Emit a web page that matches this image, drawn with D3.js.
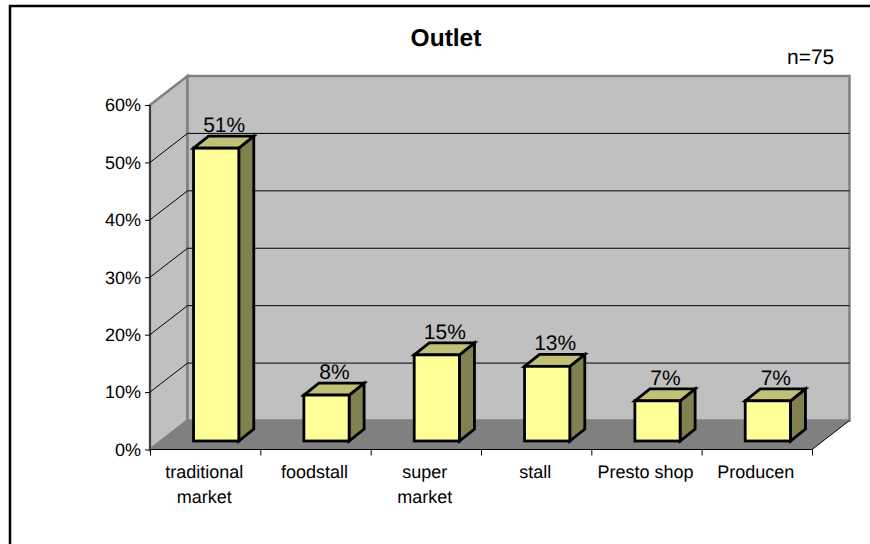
<!DOCTYPE html>
<html>
<head>
<meta charset="utf-8">
<script src="https://cdn.jsdelivr.net/npm/d3@7"></script>
<style>
  html, body { margin: 0; padding: 0; background: #fff; }
  svg { display: block; }
  text { font-family: "Liberation Sans", Arial, sans-serif; fill: #000; text-rendering: geometricPrecision; }
</style>
</head>
<body>
<svg id="chart" width="870" height="544"></svg>
<script>
// Chart content
const chartTitle = "Outlet";
const sampleNote = "n=75";
const categories = [["traditional", "market"], ["foodstall"], ["super", "market"], ["stall"], ["Presto shop"], ["Producen"]];
const shares = [51, 8, 15, 13, 7, 7];
const yTicks = [0, 10, 20, 30, 40, 50, 60];

const svg = d3.select("#chart");

// Box geometry: front plane of the 3D axis box and its depth offset
const frontLeft = 150, frontRight = 812, frontBottom = 449.5, frontTop = 105;
const depthX = 37.5, depthY = -29;
const barInset = 0.41, barShiftX = 11, barOffsetY = -8.5, barDepthX = 15, barDepthY = -12;

const x = d3.scaleBand().domain(d3.range(categories.length)).range([frontLeft, frontRight]).paddingInner(0);
const y = d3.scaleLinear().domain([0, 60]).range([frontBottom, frontTop]);

const poly = (pts) => pts.map(p => p.join(",")).join(" ");

// Outer frame
svg.append("path").attr("d", "M10,544V6H870").attr("fill", "none").attr("stroke", "#000").attr("stroke-width", 2.5);

// Side wall, back wall and floor
svg.append("polygon").attr("fill", "#c0c0c0").attr("stroke", "#808080").attr("stroke-width", 2.5)
  .attr("points", poly([[frontLeft, y(60)], [frontLeft + depthX, y(60) + depthY], [frontLeft + depthX, y(0) + depthY], [frontLeft, y(0)]]));
svg.append("polygon").attr("fill", "#c0c0c0").attr("stroke", "#808080").attr("stroke-width", 2.5)
  .attr("points", poly([[frontLeft + depthX, y(60) + depthY], [frontRight + depthX, y(60) + depthY], [frontRight + depthX, y(0) + depthY], [frontLeft + depthX, y(0) + depthY]]));
svg.append("polygon").attr("fill", "#808080")
  .attr("points", poly([[frontLeft, y(0)], [frontLeft + depthX, y(0) + depthY], [frontRight + depthX, y(0) + depthY], [frontRight, y(0)]]));

// Gridlines across the side wall and back wall
svg.append("g").selectAll("path").data(yTicks.filter(d => d > 0 && d < 60)).join("path")
  .attr("fill", "none").attr("stroke", "#000").attr("stroke-width", 1)
  .attr("d", d => `M${frontLeft},${y(d)}L${frontLeft + depthX},${y(d) + depthY}H${frontRight + depthX}`);
// Floor edge
svg.append("path").attr("fill", "none").attr("stroke", "#000").attr("stroke-width", 1)
  .attr("d", `M${frontRight},${y(0)}L${frontRight + depthX},${y(0) + depthY}`);

// Bars: front, top and side faces with value labels
const bars = svg.append("g").selectAll("g").data(shares).join("g");
const bw = x.bandwidth() * barInset;
const bx = (i) => x(i) + (x.bandwidth() - bw) / 2 + barShiftX;
const bt = (d) => y(d) + barOffsetY;
const bb = y(0) + barOffsetY;
const barStroke = (s) => s.attr("stroke", "#000").attr("stroke-width", 2.8).attr("stroke-linejoin", "miter");

bars.append("polygon").attr("fill", "#808050").call(barStroke)
  .attr("points", (d, i) => poly([[bx(i) + bw, bt(d)], [bx(i) + bw + barDepthX, bt(d) + barDepthY], [bx(i) + bw + barDepthX, bb + barDepthY], [bx(i) + bw, bb]]));
bars.append("polygon").attr("fill", "#c0c078").call(barStroke)
  .attr("points", (d, i) => poly([[bx(i), bt(d)], [bx(i) + barDepthX, bt(d) + barDepthY], [bx(i) + bw + barDepthX, bt(d) + barDepthY], [bx(i) + bw, bt(d)]]));
bars.append("rect").attr("fill", "#ffff99").call(barStroke)
  .attr("x", (d, i) => bx(i)).attr("y", d => bt(d)).attr("width", bw).attr("height", d => bb - bt(d));
bars.append("text").attr("text-anchor", "middle").attr("font-size", 21)
  .attr("x", (d, i) => bx(i) + bw / 2 + 8).attr("y", d => bt(d) - 16)
  .text(d => d + "%");

// Value axis
const yAxis = svg.append("g").attr("transform", `translate(${frontLeft},0)`)
  .call(d3.axisLeft(y).tickValues(yTicks).tickFormat(d => d + "%").tickSize(5).tickPadding(4));
yAxis.select(".domain").attr("stroke", "#000").attr("d", `M0,${y(60)}V${y(0)}`);
yAxis.selectAll("text").attr("font-size", 18).attr("font-family", null);

// Category axis: ticks sit on the band edges
const edges = d3.scaleLinear().domain([0, categories.length]).range([frontLeft, frontRight]);
const xAxis = svg.append("g").attr("transform", `translate(0,${frontBottom})`)
  .call(d3.axisBottom(edges).tickValues(d3.range(categories.length + 1)).tickFormat("").tickSize(6));
xAxis.select(".domain").attr("stroke", "#000").attr("d", `M${frontLeft},0H${frontRight}`);

svg.append("g").selectAll("text").data(categories).join("text")
  .attr("text-anchor", "middle").attr("font-size", 18)
  .attr("transform", (d, i) => `translate(${x(i) + x.bandwidth() / 2 - 1},478)`)
  .selectAll("tspan").data(d => d).join("tspan")
  .attr("x", 0).attr("dy", (d, i) => i ? 25 : 0).text(d => d);

// Title and sample size
svg.append("text").attr("x", 446).attr("y", 46).attr("text-anchor", "middle")
  .attr("font-size", 24.5).attr("font-weight", "bold").text(chartTitle);
svg.append("text").attr("x", 787).attr("y", 64).attr("font-size", 21).text(sampleNote);
</script>
</body>
</html>
